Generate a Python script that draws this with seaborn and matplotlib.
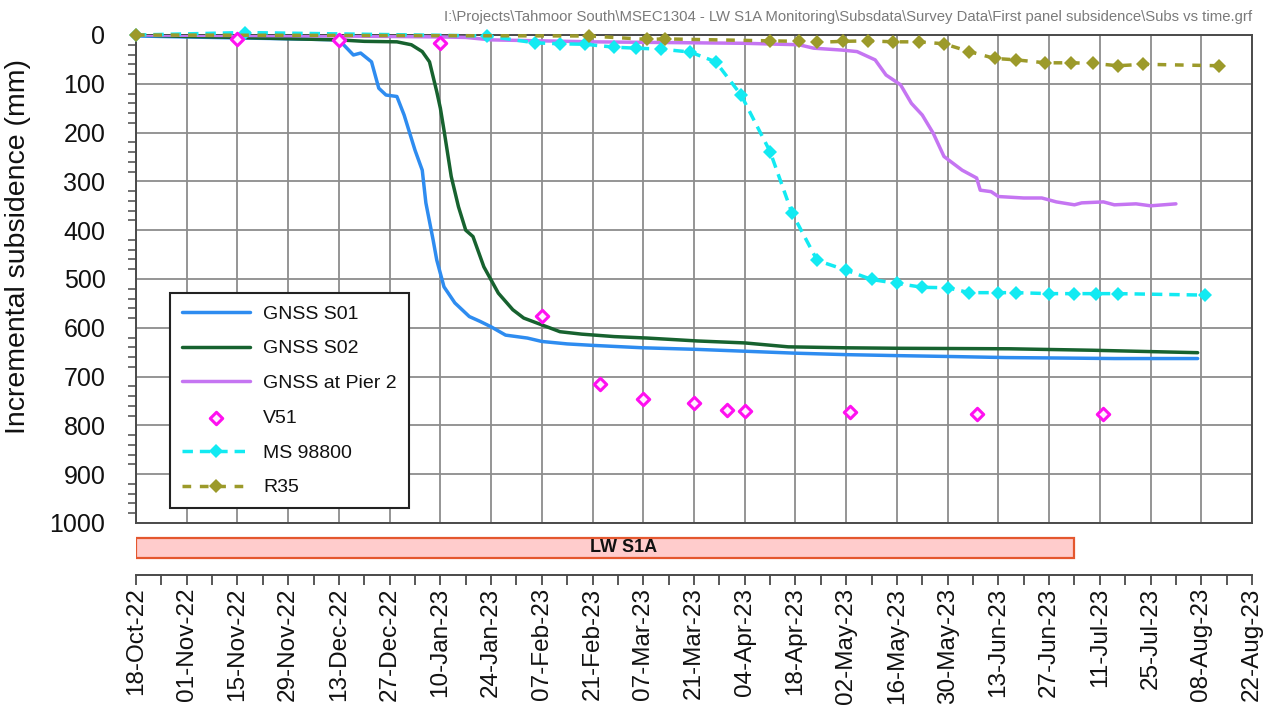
import pandas as pd
import matplotlib
matplotlib.use("Agg")
import matplotlib.pyplot as plt
import matplotlib.dates as mdates
from matplotlib.ticker import MultipleLocator, FixedLocator, NullFormatter
import seaborn as sns

# ---------------------------------------------------------------- data (mm)
s01_dates = ["2022-10-18", "2022-11-01", "2022-11-15", "2022-12-01", "2022-12-13",
             "2022-12-17", "2022-12-19", "2022-12-22", "2022-12-24", "2022-12-26",
             "2022-12-29", "2022-12-31", "2023-01-03", "2023-01-05", "2023-01-06",
             "2023-01-08", "2023-01-09", "2023-01-11", "2023-01-14", "2023-01-18",
             "2023-01-21", "2023-01-24", "2023-01-28", "2023-02-03", "2023-02-07",
             "2023-02-14", "2023-02-21", "2023-03-07", "2023-03-21", "2023-04-04",
             "2023-04-18", "2023-05-02", "2023-05-16", "2023-06-01", "2023-06-15",
             "2023-07-01", "2023-07-15", "2023-08-07"]
s01_mm = [2, 4, 6, 8, 10, 41, 37, 55, 109, 123, 126, 164, 236, 277, 344, 420, 461,
          516, 549, 577, 587, 598, 615, 621, 628, 633, 636, 641, 644, 648, 652, 655,
          657, 659, 661, 662, 663, 663]

s02_dates = ["2022-10-18", "2022-11-01", "2022-11-15", "2022-12-01", "2022-12-13",
             "2022-12-20", "2022-12-29", "2023-01-02", "2023-01-05", "2023-01-07",
             "2023-01-09", "2023-01-10", "2023-01-11", "2023-01-13", "2023-01-15",
             "2023-01-17", "2023-01-19", "2023-01-22", "2023-01-26", "2023-01-30",
             "2023-02-02", "2023-02-07", "2023-02-12", "2023-02-18", "2023-02-27",
             "2023-03-08", "2023-03-22", "2023-04-04", "2023-04-16", "2023-05-02",
             "2023-05-17", "2023-06-16", "2023-07-09", "2023-08-07"]
s02_mm = [0, 3, 5, 8, 10, 13, 14, 20, 34, 55, 116, 150, 195, 290, 352, 400, 413,
          475, 529, 563, 580, 594, 608, 613, 618, 621, 627, 631, 639, 641, 642, 643,
          646, 651]

pier2_dates = ["2022-10-18", "2022-11-15", "2022-12-13", "2023-01-10", "2023-01-17",
               "2023-01-24", "2023-02-07", "2023-02-21", "2023-03-07", "2023-03-21",
               "2023-04-04", "2023-04-19", "2023-04-23", "2023-05-01", "2023-05-05",
               "2023-05-10", "2023-05-13", "2023-05-17", "2023-05-20", "2023-05-23",
               "2023-05-26", "2023-05-29", "2023-06-03", "2023-06-07", "2023-06-08",
               "2023-06-11", "2023-06-13", "2023-06-20", "2023-06-25", "2023-06-29",
               "2023-07-04", "2023-07-06", "2023-07-12", "2023-07-15", "2023-07-21",
               "2023-07-25", "2023-08-01"]
pier2_mm = [0, 1, 2, 4, 5, 10, 12, 14, 15, 16, 17, 20, 27, 31, 34, 51, 82, 102, 140,
            164, 201, 249, 277, 293, 318, 321, 331, 334, 334, 342, 348, 344, 342, 348,
            346, 350, 346]

v51_dates = ["2022-11-15", "2022-12-13", "2023-01-10", "2023-02-07", "2023-02-23",
             "2023-03-07", "2023-03-21", "2023-03-30", "2023-04-04", "2023-05-03",
             "2023-06-07", "2023-07-12"]
v51_mm = [8, 10, 17, 575, 716, 746, 754, 768, 770, 772, 776, 777]

ms98800_dates = ["2022-10-18", "2022-11-17", "2023-01-23", "2023-02-05", "2023-02-12",
                 "2023-02-19", "2023-02-27", "2023-03-05", "2023-03-12", "2023-03-20",
                 "2023-03-27", "2023-04-03", "2023-04-11", "2023-04-17", "2023-04-24",
                 "2023-05-02", "2023-05-09", "2023-05-16", "2023-05-23", "2023-05-30",
                 "2023-06-05", "2023-06-13", "2023-06-18", "2023-06-27", "2023-07-04",
                 "2023-07-10", "2023-07-16", "2023-08-09"]
ms98800_mm = [0, -5, 2, 16, 18, 19, 25, 27, 29, 35, 55, 123, 239, 364, 462, 482, 501,
              509, 517, 518, 528, 528, 528, 530, 530, 530, 530, 533]

r35_dates = ["2022-10-18", "2023-02-20", "2023-03-08", "2023-03-13", "2023-04-11",
             "2023-04-19", "2023-04-24", "2023-05-01", "2023-05-08", "2023-05-15",
             "2023-05-22", "2023-05-29", "2023-06-05", "2023-06-12", "2023-06-18",
             "2023-06-26", "2023-07-03", "2023-07-09", "2023-07-16", "2023-07-23",
             "2023-08-13"]
r35_mm = [0, 2, 9, 8, 12, 13, 15, 13, 12, 14, 14, 18, 34, 48, 51, 57, 57, 58, 63, 60, 63]

# Mining period of longwall LW S1A
lw_start, lw_end = "2022-10-18", "2023-07-04"
lw_label = "LW S1A"

axis_start, axis_end = "2022-10-18", "2023-08-22"
y_label = "Incremental subsidence (mm)"
source_path = (r"I:\Projects\Tahmoor South\MSEC1304 - LW S1A Monitoring\Subsdata"
               r"\Survey Data\First panel subsidence\Subs vs time.grf")

# ---------------------------------------------------------------- styling
BLUE = "#2E8CF0"
GREEN = "#17622F"
PURPLE = "#C575F2"
MAGENTA = "#FF10F0"
CYAN = "#12EAF2"
OLIVE = "#9C9A2A"
GRID = "#8C8C8C"
FRAME = "#4A4A4A"

sns.set_theme(style="white")
plt.rcParams["font.family"] = ["Liberation Sans", "DejaVu Sans"]


def frame(dates, values):
    return pd.DataFrame({"date": pd.to_datetime(dates), "mm": values})


W, H = 1271, 706
fig = plt.figure(figsize=(W / 100, H / 100), dpi=100)
ax = fig.add_axes([136 / W, 1 - 523 / H, 1116 / W, 488 / H])
bar_ax = fig.add_axes([136 / W, 1 - 575 / H, 1116 / W, 45 / H])

# ---------------------------------------------------------------- series
sns.lineplot(data=frame(s01_dates, s01_mm), x="date", y="mm", ax=ax, color=BLUE,
             lw=2.5, estimator=None, label="GNSS S01", zorder=4)
sns.lineplot(data=frame(s02_dates, s02_mm), x="date", y="mm", ax=ax, color=GREEN,
             lw=2.5, estimator=None, label="GNSS S02", zorder=4)
sns.lineplot(data=frame(pier2_dates, pier2_mm), x="date", y="mm", ax=ax, color=PURPLE,
             lw=2.5, estimator=None, label="GNSS at Pier 2", zorder=4)
sns.lineplot(data=frame(ms98800_dates, ms98800_mm), x="date", y="mm", ax=ax,
             color=CYAN, lw=2.5, linestyle=(0, (3, 2)), marker="D", markersize=7.5,
             markerfacecolor=CYAN, markeredgecolor=CYAN, markeredgewidth=0,
             estimator=None, label="MS 98800", zorder=5, clip_on=False)
sns.lineplot(data=frame(r35_dates, r35_mm), x="date", y="mm", ax=ax, color=OLIVE,
             lw=2.5, linestyle=(0, (2.5, 2.5)), marker="D", markersize=7.5,
             markerfacecolor=OLIVE, markeredgecolor=OLIVE, markeredgewidth=0,
             estimator=None, label="R35", zorder=5, clip_on=False)
sns.scatterplot(data=frame(v51_dates, v51_mm), x="date", y="mm", ax=ax, marker="D",
                s=40, facecolor="#FFF0FF", edgecolor=MAGENTA, linewidth=2.2,
                label="V51", zorder=6, clip_on=False)

# ---------------------------------------------------------------- main axes
x0, x1 = pd.Timestamp(axis_start), pd.Timestamp(axis_end)
major_days = pd.date_range(x0, x1, freq="14D")
minor_days = pd.date_range(x0, x1, freq="7D")

ax.set_xlim(x0, x1)
ax.set_ylim(1000, 0)
ax.xaxis.set_major_locator(FixedLocator(mdates.date2num(major_days)))
ax.xaxis.set_major_formatter(NullFormatter())
ax.yaxis.set_major_locator(MultipleLocator(100))
ax.yaxis.set_minor_locator(MultipleLocator(20))
ax.tick_params(axis="x", which="both", length=0, labelbottom=False)
ax.tick_params(axis="y", which="major", direction="out", length=10, width=1.3,
               color=FRAME, labelsize=18, pad=12, labelcolor="#111111")
ax.tick_params(axis="y", which="minor", direction="out", length=6, width=1.1,
               color=FRAME, left=True)
ax.set_axisbelow(True)
ax.grid(True, which="major", color=GRID, lw=1.3)
for sp in ax.spines.values():
    sp.set_color(FRAME)
    sp.set_linewidth(1.4)
ax.set_xlabel("")
ax.set_ylabel(y_label, fontsize=20.5, color="#111111")
ax.yaxis.set_label_coords(-0.094, 0.566)

order = ["GNSS S01", "GNSS S02", "GNSS at Pier 2", "V51", "MS 98800", "R35"]
handles, labels = ax.get_legend_handles_labels()
lookup = dict(zip(labels, handles))
leg = ax.legend([lookup[k] for k in order], order, loc="lower left",
                bbox_to_anchor=(0.0305, 0.0307), borderaxespad=0, frameon=True,
                fancybox=False, edgecolor="#222222", framealpha=1, fontsize=14,
                handlelength=3.5, handletextpad=0.7, labelspacing=0.88,
                borderpad=0.6, scatterpoints=1)
leg.get_frame().set_linewidth(1.5)
for t in leg.get_texts():
    t.set_color("#111111")

# ---------------------------------------------------------------- timeline strip
bar_ax.set_xlim(x0, x1)
bar_ax.set_ylim(0, 1)
b0, b1 = mdates.date2num(pd.Timestamp(lw_start)), mdates.date2num(pd.Timestamp(lw_end))
bar_ax.barh(0.6, b1 - b0, left=b0, height=0.45, color="#FFCCCC",
            edgecolor="#E4572E", linewidth=1.6)
bar_ax.text(0.437, 0.6, lw_label, transform=bar_ax.transAxes, ha="center",
            va="center", fontsize=13, fontweight="bold", color="#111111")
bar_ax.xaxis.set_major_locator(FixedLocator(mdates.date2num(major_days)))
bar_ax.xaxis.set_minor_locator(FixedLocator(mdates.date2num(minor_days)))
bar_ax.xaxis.set_major_formatter(mdates.DateFormatter("%d-%b-%y"))
bar_ax.tick_params(axis="x", which="both", direction="out", length=7, width=1.3,
                   color=FRAME, bottom=True)
bar_ax.tick_params(axis="x", which="major", labelsize=17.5, pad=2,
                   labelrotation=90, labelcolor="#111111")
bar_ax.set_yticks([])
for name, sp in bar_ax.spines.items():
    sp.set_visible(name == "bottom")
bar_ax.spines["bottom"].set_color(FRAME)
bar_ax.spines["bottom"].set_linewidth(1.4)
bar_ax.patch.set_alpha(0)

fig.text(1252 / W, 1 - 17 / H, source_path, ha="right", va="center", fontsize=10.7,
         color="#7A7A7A")

fig.savefig("out.png", dpi=100)
